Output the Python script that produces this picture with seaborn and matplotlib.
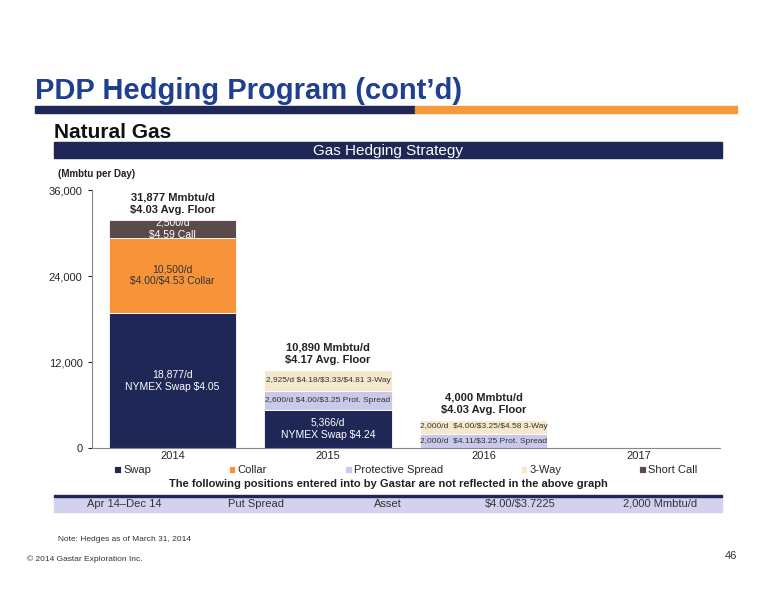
import matplotlib
matplotlib.use("Agg")
import matplotlib.pyplot as plt
import seaborn as sns
import numpy as np
import pandas as pd
from matplotlib.patches import Rectangle

years = ["2014", "2015", "2016", "2017"]
swap = [18877, 5366, 0, 0]
collar = [10500, 0, 0, 0]
prot_spread = [0, 2600, 2000, 0]
three_way = [0, 2925, 2000, 0]
short_call = [2500, 0, 0, 0]
totals_text = ["31,877 Mmbtu/d\n$4.03 Avg. Floor", "10,890 Mmbtu/d\n$4.17 Avg. Floor",
               "4,000 Mmbtu/d\n$4.03 Avg. Floor", ""]
series_names = ["Swap", "Collar", "Protective Spread", "3-Way", "Short Call"]
colors = ["#1e2755", "#f7943a", "#c9c9ea", "#f5e8cc", "#5b4a4c"]
labels = {
    0: ["18,877/d\nNYMEX Swap $4.05", "5,366/d\nNYMEX Swap $4.24", "", ""],
    1: ["10,500/d\n$4.00/$4.53 Collar", "", "", ""],
    2: ["", "2,600/d $4.00/$3.25 Prot. Spread", "2,000/d  $4.11/$3.25 Prot. Spread", ""],
    3: ["", "2,925/d $4.18/$3.33/$4.81 3-Way", "2,000/d  $4.00/$3.25/$4.58 3-Way", ""],
    4: ["2,500/d\n$4.59 Call", "", "", ""],
}
label_colors = ["white", "#333333", "#333333", "#333333", "white"]
ticks = [0, 12000, 24000, 36000]

sns.set_style("white")
plt.rcParams['font.family'] = ['Liberation Sans', 'DejaVu Sans']
plt.rcParams['text.parse_math'] = False

fig = plt.figure(figsize=(7.76, 6.0), dpi=100)
ax = fig.add_axes([0.118, 0.253, 0.81, 0.43])

data = [swap, collar, prot_spread, three_way, short_call]
bottom = np.zeros(4)
for i, vals in enumerate(data):
    df = pd.DataFrame({"year": years, "v": vals})
    sns.barplot(data=df, x="year", y="v", ax=ax, color=colors[i], bottom=bottom,
                width=0.82, saturation=1, edgecolor="white", linewidth=0.6,
                label=series_names[i])
    for j, v in enumerate(vals):
        if v > 0 and labels[i][j]:
            fs = 6 if "\n" not in labels[i][j] else 7.5
            ax.text(j, bottom[j] + v / 2, labels[i][j], ha="center", va="center",
                    fontsize=fs, color=label_colors[i], linespacing=1.3)
    bottom = bottom + np.array(vals)

for j, t in enumerate(totals_text):
    if t:
        ax.text(j, bottom[j] + 700, t, ha="center", va="bottom", fontsize=8,
                fontweight="bold", color="#222222", linespacing=1.3)

ax.set_xlim(-0.52, 3.52)
ax.set_ylim(0, 36000)
ax.set_yticks(ticks)
ax.set_yticklabels([f"{t:,}" for t in ticks], fontsize=8)
ax.tick_params(axis="x", labelsize=8, length=0, pad=2)
ax.tick_params(axis="y", length=3, left=True)
ax.set_xlabel("")
ax.set_ylabel("")
for s in ["top", "right"]:
    ax.spines[s].set_visible(False)
ax.spines["left"].set_color("#888888")
ax.spines["bottom"].set_color("#888888")
ax.legend(loc="center", bbox_to_anchor=(0.5, -0.085), ncol=5, frameon=False,
          fontsize=8, handlelength=0.6, handleheight=0.6, handletextpad=0.2,
          columnspacing=7, borderpad=0)

# slide decorations
fig.text(0.045, 0.835, "PDP Hedging Program (cont\u2019d)", fontsize=21, color="#1f3f8f", fontweight="bold")
fig.add_artist(Rectangle((0.045, 0.812), 0.49, 0.012, transform=fig.transFigure, color="#1e2755"))
fig.add_artist(Rectangle((0.535, 0.812), 0.415, 0.012, transform=fig.transFigure, color="#f59a3c"))
fig.text(0.07, 0.77, "Natural Gas", fontsize=15, fontweight="bold", color="#111111")
fig.add_artist(Rectangle((0.07, 0.737), 0.86, 0.027, transform=fig.transFigure, color="#1e2755"))
fig.text(0.5, 0.748, "Gas Hedging Strategy", fontsize=11, color="white", ha="center", va="center")
fig.text(0.075, 0.705, "(Mmbtu per Day)", fontsize=7, color="#222222", fontweight="bold")
fig.text(0.5, 0.188, "The following positions entered into by Gastar are not reflected in the above graph",
         fontsize=8, fontweight="bold", ha="center", color="#222222")
fig.add_artist(Rectangle((0.07, 0.147), 0.86, 0.027, transform=fig.transFigure, color="#d2d2ee"))
fig.add_artist(Rectangle((0.07, 0.172), 0.86, 0.003, transform=fig.transFigure, color="#1e2755"))
for x, t in zip([0.16, 0.33, 0.5, 0.67, 0.85],
                ["Apr 14\u2013Dec 14", "Put Spread", "Asset", "$4.00/$3.7225", "2,000 Mmbtu/d"]):
    fig.text(x, 0.160, t, fontsize=8, ha="center", va="center", color="#333333")
fig.text(0.075, 0.098, "Note: Hedges as of March 31, 2014", fontsize=6, color="#333333")
fig.text(0.035, 0.065, "\u00a9 2014 Gastar Exploration Inc.", fontsize=6, color="#333333")
fig.text(0.95, 0.068, "46", fontsize=8, color="#333333", ha="right")

fig.savefig("out.png", dpi=100)
